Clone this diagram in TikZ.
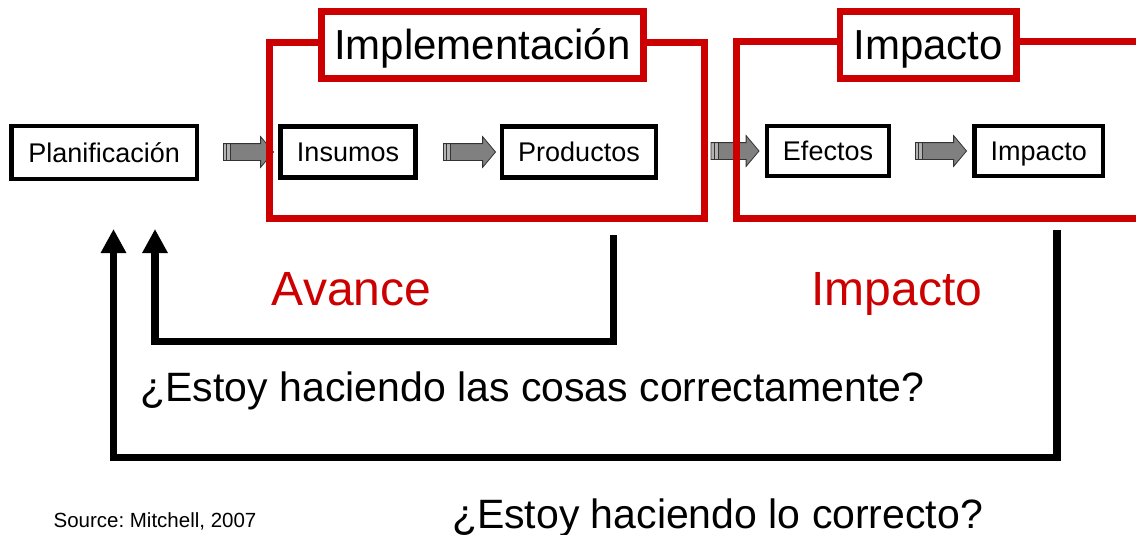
\documentclass[tikz,border=0pt]{standalone}
\usepackage{fontspec}
\setmainfont{Liberation Sans}
\usetikzlibrary{arrows.meta,shapes.arrows}
\definecolor{rojo}{RGB}{204,0,0}
\definecolor{gris}{RGB}{128,128,128}

\begin{document}
\frenchspacing
\begin{tikzpicture}[x=1pt,y=-1pt,
  caja/.style={draw,line width=4.5pt,inner sep=0pt,font=\fontsize{27}{30}\selectfont,
    text height=19.3pt,text depth=0pt},
  titulo/.style={draw=rojo,fill=white,line width=6.5pt,inner sep=0pt,
    font=\fontsize{42}{46}\selectfont,text height=30pt,text depth=0pt},
  marco/.style={draw=rojo,line width=7pt},
  flecha/.style={single arrow,draw=black!80,line width=0.8pt,fill=gris,
    inner xsep=0pt,inner ysep=8pt,minimum height=50pt,
    single arrow head extend=7pt,single arrow tip angle=100,
    path picture={
      \fill[gris!60] (path picture bounding box.south west) rectangle
        ([xshift=7pt]path picture bounding box.north west);
      \draw[line width=0.9pt] ([xshift=3pt]path picture bounding box.south west) --
        ([xshift=3pt]path picture bounding box.north west);
      \draw[line width=0.9pt] ([xshift=7pt]path picture bounding box.south west) --
        ([xshift=7pt]path picture bounding box.north west);}},
  retro/.style={line width=7.5pt,-{Triangle[width=24pt,length=24pt]}},
  etiqueta/.style={text=rojo,font=\fontsize{48}{52}\selectfont,anchor=base},
  pregunta/.style={font=\fontsize{41}{46}\selectfont,anchor=base}]
  \useasboundingbox (0,0) rectangle (1136,535);

  \node[caja,minimum width=185.5pt,minimum height=53pt] (plan) at (104.25,152.5) {Planificación};
  \node[caja,minimum width=135pt,minimum height=51pt] (ins) at (348,152) {Insumos};
  \node[caja,minimum width=154pt,minimum height=51pt] (prod) at (579,152) {Productos};
  \node[caja,minimum width=122pt,minimum height=50pt] (efe) at (828,151) {Efectos};
  \node[caja,minimum width=128.5pt,minimum height=50pt] (imp) at (1038.75,151) {Impacto};

  \node[flecha] (f1) at (245,152) {};
  \node[flecha,minimum height=52pt] (f2) at (466,152) {};
  \node[flecha,minimum height=48pt] (f3) at (731.5,151) {};
  \node[flecha,minimum height=51pt] (f4) at (937.5,151) {};

  \draw[marco] (269,42.5) rectangle (704,218);
  \draw[marco] (1150,42) -| (736,218) -- (1150,218);
  \node[titulo,minimum width=322pt,minimum height=67pt] (impl) at (482.5,45) {Implementación};
  \node[titulo,minimum width=176.5pt,minimum height=67pt] (impc) at (928.25,45) {Impacto};

  \coordinate (a1) at (613.5,235);
  \coordinate (a2) at (155,229);
  \coordinate (b1) at (1057,230);
  \coordinate (b2) at (113.5,229);
  \draw[retro] (a1) -- ++(0,106.5) -| (a2);
  \draw[retro] (b1) -- ++(0,227.5) -| (b2);

  \node[etiqueta] (avance) at (351.5,305) {Avance};
  \node[etiqueta] (impacto) at (897,305) {Impacto};
  \node[pregunta] (p1) at (532.5,401) {¿Estoy haciendo las cosas correctamente?};
  \node[pregunta] (p2) at (717.5,528) {¿Estoy haciendo lo correcto?};
  \node[font=\fontsize{20.5}{24}\selectfont,anchor=base] (fuente) at (155,527) {Source: Mitchell, 2007};
\end{tikzpicture}
\end{document}
